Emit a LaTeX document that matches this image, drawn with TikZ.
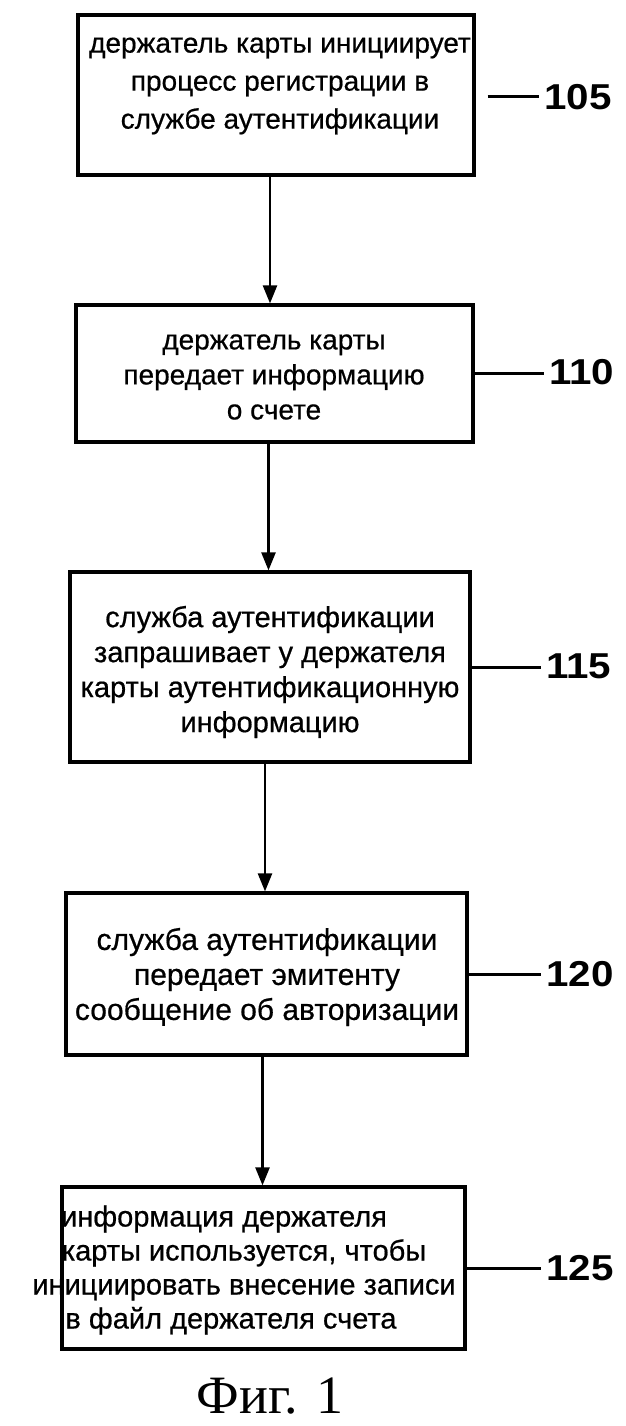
\documentclass[tikz,border=0pt]{standalone}
\usepackage{fontspec}
\setmainfont{Liberation Sans}
\newfontfamily\boxfont[RawFeature={embolden=0.6}]{Liberation Sans}
\newfontfamily\lblfont[FakeStretch=1.12]{Liberation Sans Bold}
\newfontfamily\capfont{Liberation Serif}
\usetikzlibrary{arrows.meta,calc}
\tikzset{
  stepbox/.style={draw, line width=3.2pt, rectangle, inner sep=0pt},
  boxtxt/.style={align=center, inner sep=0pt, font=\fontsize{28}{35}\selectfont\boxfont},
  lbl/.style={inner sep=0pt, font=\fontsize{36}{40}\selectfont\lblfont},
  lead/.style={line width=3pt},
  arr/.style={line width=2.4pt, -{Triangle[length=18pt,width=14pt]}},
  figcap/.style={inner sep=0pt, font=\fontsize{54}{60}\selectfont\capfont}
}
\begin{document}
\begin{tikzpicture}[x=1pt,y=-1pt]
\useasboundingbox (0,0) rectangle (625,1426);
% boxes
\node[stepbox, minimum width=396pt, minimum height=160pt] (b1) at (276,95) {};
\node[stepbox, minimum width=397pt, minimum height=137pt] (b2) at (274.5,373.5) {};
\node[stepbox, minimum width=400pt, minimum height=190pt] (b3) at (270,667) {};
\node[stepbox, minimum width=401pt, minimum height=162pt] (b4) at (266.5,974) {};
\node[stepbox, minimum width=403pt, minimum height=162pt] (b5) at (263.5,1268) {};
% texts
\node[boxtxt, font=\fontsize{28}{38}\selectfont\boxfont] (t1) at (280,86) {держатель карты инициирует\\процесс регистрации в\\службе аутентификации};
\node[boxtxt] (t2) at (274,377) {держатель карты\\передает информацию\\о счете};
\node[boxtxt, font=\fontsize{29}{35}\selectfont\boxfont] (t3) at (270,672) {служба аутентификации\\запрашивает у держателя\\карты аутентификационную\\информацию};
\node[boxtxt, font=\fontsize{30}{35}\selectfont\boxfont] (t4) at (267,977) {служба аутентификации\\передает эмитенту\\сообщение об авторизации};
\node[boxtxt, font=\fontsize{29}{34}\selectfont\boxfont] (t5) at (244,1270) {информация держателя\hspace*{40pt}\\карты используется, чтобы\\инициировать внесение записи\\в файл держателя счета\hspace*{26pt}};
% labels
\node[lbl, anchor=west] (n105) at (544,97) {105};
\node[lbl, anchor=west] (n110) at (549,372) {110};
\node[lbl, anchor=west] (n115) at (546,666) {115};
\node[lbl, anchor=west] (n120) at (546,974) {120};
\node[lbl, anchor=west] (n125) at (546,1268) {125};
\draw[lead] ([xshift=12pt]b1.east |- n105.west) -- ([xshift=-5pt]n105.west);
\draw[lead] (b2.east) -- ([xshift=-5pt]n110.west |- b2.east);
\draw[lead] (b3.east) -- ([xshift=-5pt]n115.west |- b3.east);
\draw[lead] (b4.east) -- ([xshift=-5pt]n120.west |- b4.east);
\draw[lead] (b5.east) -- ([xshift=-5pt]n125.west |- b5.east);
% arrows
\draw[arr] ([xshift=-6pt]b1.south) -- ([xshift=-6pt]b1.south |- b2.north);
\draw[arr] ([xshift=-6pt]b2.south) -- ([xshift=-6pt]b2.south |- b3.north);
\draw[arr] ([xshift=-5pt]b3.south) -- ([xshift=-5pt]b3.south |- b4.north);
\draw[arr] ([xshift=-4pt]b4.south) -- ([xshift=-4pt]b4.south |- b5.north);
% caption
\node[figcap] (fig) at (270,1396) {Фиг. 1};
\end{tikzpicture}
\end{document}
